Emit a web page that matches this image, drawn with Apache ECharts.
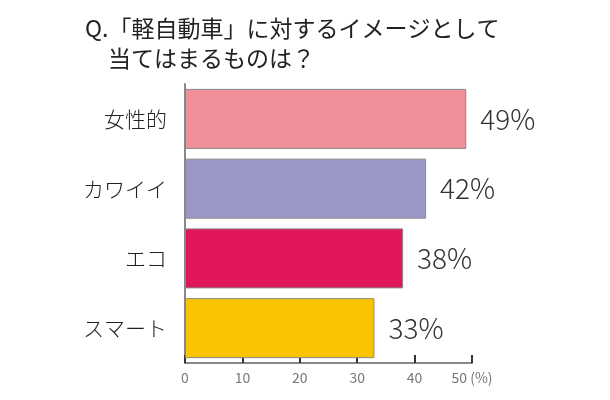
<!DOCTYPE html>
<html><head><meta charset="utf-8">
<script src="https://cdn.jsdelivr.net/npm/echarts@6/dist/echarts.min.js"></script>
<style>html,body{margin:0;background:#fff}#c{width:610px;height:400px}</style>
</head><body><div id="c"></div>
<script>
var categories=['女性的','カワイイ','エコ','スマート'];
var values=[49,42,38,33];
var colors=['#f0909a','#9b97c8','#e0185a','#fbc400'];
var ticks=[0,10,20,30,40,50];

var chart=echarts.init(document.getElementById('c'));
var font='"Noto Sans CJK JP",sans-serif';
chart.setOption({
	animation:false,
	title:{
		text:'Q.「軽自動車」に対するイメージとして\n　当てはまるものは？',
		left:80,top:8,
		textStyle:{fontFamily:font,fontSize:23,fontWeight:'normal',color:'#222',lineHeight:30}
	},
	grid:{left:185,right:138,top:84,bottom:37},
	xAxis:{
		type:'value',min:0,max:50,interval:10,
		axisLine:{show:true,lineStyle:{color:'#888',width:2}},
		axisTick:{show:true,inside:true,length:8,lineStyle:{color:'#333',width:2}},
		splitLine:{show:false},
		axisLabel:{color:'#777',fontSize:14,fontFamily:font,formatter:function(v){return v==50?'50 (%)':v;}}
	},
	yAxis:{
		type:'category',inverse:true,data:categories,
		axisLine:{show:true,lineStyle:{color:'#888',width:2}},
		axisTick:{show:false},
		axisLabel:{color:'#222',fontSize:21,fontWeight:300,fontFamily:font,margin:18}
	},
	series:[{
		type:'bar',barWidth:60,
		data:values.map(function(v,i){return {value:v,itemStyle:{color:colors[i]}};}),
		itemStyle:{borderColor:'#888',borderWidth:1},
		label:{show:true,position:'right',distance:14,formatter:'{c}%',fontSize:28,fontWeight:300,color:'#333',fontFamily:font}
	}]
});
</script></body></html>
